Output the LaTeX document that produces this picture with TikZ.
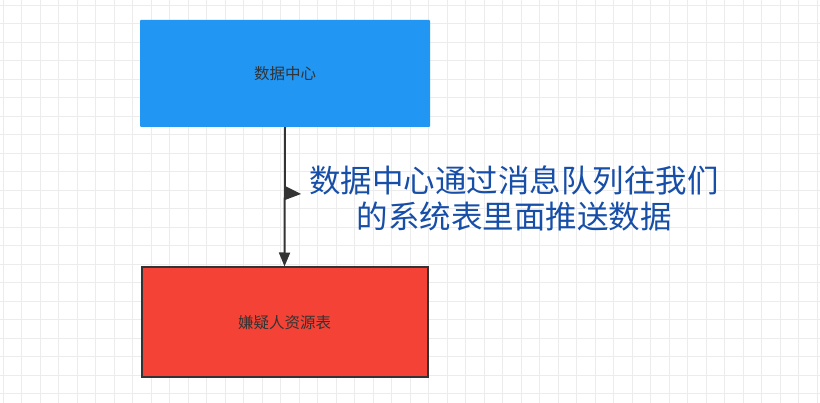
\documentclass[tikz,border=0pt]{standalone}
\usepackage{fontspec}
\usetikzlibrary{arrows.meta}
\newfontfamily\cjk{Noto Sans CJK SC}
\definecolor{gridc}{RGB}{236,236,236}
\definecolor{bluebox}{RGB}{33,150,243}
\definecolor{redbox}{RGB}{244,67,54}
\definecolor{edge}{RGB}{51,51,51}
\definecolor{labelc}{RGB}{22,78,168}
\begin{document}
\begin{tikzpicture}[x=1pt,y=-1pt,
  boxtext/.style={font=\cjk\fontsize{15.5}{18}\selectfont, text=edge}]
\useasboundingbox (0,0) rectangle (820,403);
\fill[white] (0,0) rectangle (820,403);
\foreach \i in {0,...,44} {
  \draw[gridc, line width=0.7pt] (\i*18.5+3,0) -- (\i*18.5+3,403);
}
\foreach \j in {0,...,22} {
  \draw[gridc, line width=0.7pt] (0,\j*18.5+5) -- (820,\j*18.5+5);
}
\node[boxtext, fill=bluebox, minimum width=290pt, minimum height=107pt, inner sep=0pt, rounded corners=1pt] (dc) at (285,73.5) {数据中心};
\node[boxtext, fill=redbox, draw=edge, line width=2pt, minimum width=286pt, minimum height=110pt, inner sep=0pt] (sus) at (284.5,322.5) {嫌疑人资源表};
\draw[edge, line width=2pt, -{Triangle[length=14pt,width=11pt]}] (dc.south) -- (sus.north);
\coordinate (flag) at (285,193);
\fill[edge] (285,186) -- (301,194) -- (285,200) -- cycle;
\node[font=\cjk\fontsize{31.5}{36}\selectfont, text=labelc, align=center] (lbl) at (514,198) {数据中心通过消息队列往我们\\的系统表里面推送数据};
\end{tikzpicture}
\end{document}
